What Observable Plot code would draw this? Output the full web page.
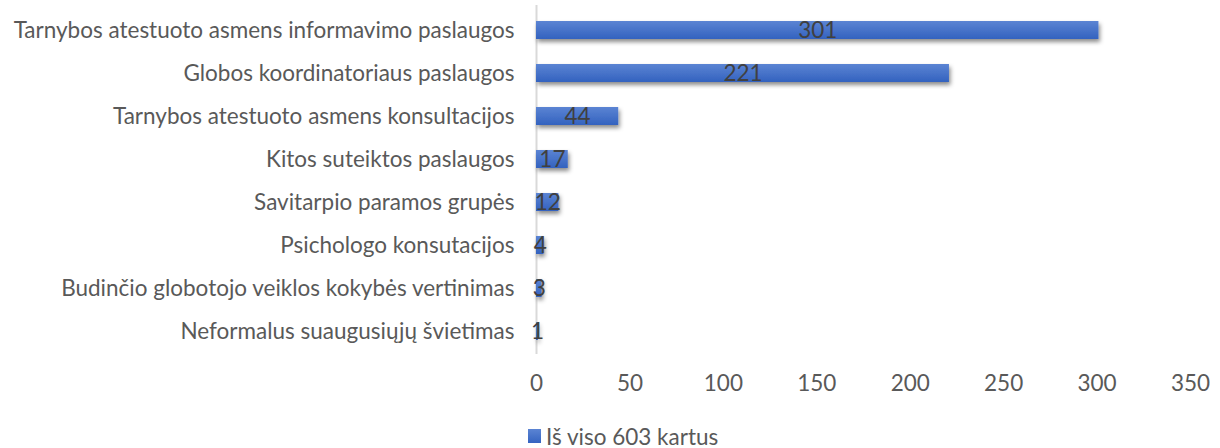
<!DOCTYPE html>
<html><head><meta charset="utf-8">
<script src="https://cdn.jsdelivr.net/npm/d3@7"></script>
<script src="https://cdn.jsdelivr.net/npm/@observablehq/plot@0.6"></script>
<style>
body{margin:0;background:#fff;font-family:Lato,"Noto Sans",sans-serif;}
#legend{height:48px;display:flex;align-items:center;justify-content:flex-start;padding-left:528px;padding-top:24px;color:#595959;font-size:22.5px;box-sizing:border-box;}
#legend .sw{width:13px;height:14px;background:linear-gradient(#5b84d3,#3564c1);margin-right:5px;}
</style></head>
<body><div id="chart"></div><div id="legend"><span class="sw"></span><span>Iš viso 603 kartus</span></div>
<script>
const categories = [
  "Tarnybos atestuoto asmens informavimo paslaugos",
  "Globos koordinatoriaus paslaugos",
  "Tarnybos atestuoto asmens konsultacijos",
  "Kitos suteiktos paslaugos",
  "Savitarpio paramos grupės",
  "Psichologo konsutacijos",
  "Budinčio globotojo veiklos kokybės vertinimas",
  "Neformalus suaugusiųjų švietimas"
];
const values = [301, 221, 44, 17, 12, 4, 3, 1];
const xTicks = [0, 50, 100, 150, 200, 250, 300, 350];
const data = categories.map((c, i) => ({category: c, value: values[i]}));

const plot = Plot.plot({
  width: 1220,
  height: 400,
  marginLeft: 536,
  marginRight: 30,
  marginTop: 8,
  marginBottom: 46,
  style: {fontFamily: "Lato, 'Noto Sans', sans-serif", fontSize: "22.5px", color: "#595959", background: "#fff"},
  x: {domain: [0, 350], ticks: xTicks, tickSize: 0, tickPadding: 21, label: null},
  y: {domain: categories, paddingInner: 0.58, paddingOuter: 0.29, tickSize: 0, tickPadding: 22, label: null},
  marks: [
    Plot.ruleX([0], {stroke: "#d9d9d9", strokeWidth: 2, insetTop: -3}),
    Plot.barX(data, {x: "value", y: "category", fill: "url(#barGrad)"}),
    Plot.text(data, {x: d => d.value / 2, y: "category", text: d => String(d.value), fill: "#404040", fontSize: 22.5})
  ]
});
document.getElementById("chart").appendChild(plot);

const svg = d3.select(plot);
const defs = svg.insert("defs", ":first-child");
const g = defs.append("linearGradient").attr("id", "barGrad").attr("x1", 0).attr("y1", 0).attr("x2", 0).attr("y2", 1);
g.append("stop").attr("offset", "0%").attr("stop-color", "#5b84d3");
g.append("stop").attr("offset", "100%").attr("stop-color", "#3362bf");
const f = defs.append("filter").attr("id", "shadow").attr("x", "-10%").attr("y", "-30%").attr("width", "130%").attr("height", "200%");
f.append("feDropShadow").attr("dx", 1.5).attr("dy", 3).attr("stdDeviation", 2).attr("flood-color", "#000").attr("flood-opacity", 0.45);
svg.selectAll("g[aria-label='bar']").attr("filter", "url(#shadow)");
</script>
</body></html>
